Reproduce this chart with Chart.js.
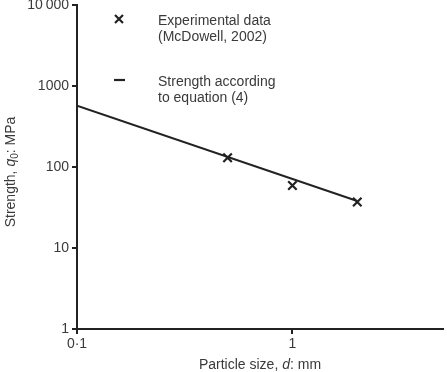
<!DOCTYPE html>
<html>
<head>
<meta charset="utf-8">
<script src="https://cdn.jsdelivr.net/npm/chart.js@4"></script>
<style>
  html, body { margin: 0; padding: 0; background: #fff; }
  #wrap { width: 447px; height: 372px; }
</style>
</head>
<body>
<div id="wrap"><canvas id="chart"></canvas></div>
<script>
// data
var particleSize = [0.5, 1, 2];
var strength = [130, 59, 37];
var eqSize = [0.1, 2];
var eqStrength = [570, 38];
var xTicks = [0.1, 1];
var yTicks = [1, 10, 100, 1000, 10000];

var FONT = "'Liberation Sans', Arial, sans-serif";
var TXT = '#3a3a3a';

function pts(xs, ys) {
    return xs.map(function(x, i) { return { x: x, y: ys[i] }; });
}

// draws legend + axis titles (mixed italic / subscript)
var decor = {
    id: 'decor',
    afterDraw: function(chart) {
        var ctx = chart.ctx;
        ctx.save();
        ctx.fillStyle = TXT;
        ctx.strokeStyle = '#222';
        ctx.textBaseline = 'middle';

        // legend
        ctx.lineWidth = 2.2;
        ctx.beginPath();
        ctx.moveTo(115, 15); ctx.lineTo(123, 23);
        ctx.moveTo(123, 15); ctx.lineTo(115, 23);
        ctx.stroke();
        ctx.beginPath();
        ctx.moveTo(114, 80); ctx.lineTo(125, 80);
        ctx.stroke();

        ctx.font = '14px ' + FONT;
        ctx.textAlign = 'left';
        ctx.fillText('Experimental data', 158, 21);
        ctx.fillText('(McDowell, 2002)', 158, 37);
        ctx.fillText('Strength according', 158, 82);
        ctx.fillText('to equation (4)', 158, 98);

        // x title
        var parts = [['Particle size, ', 'normal'], ['d', 'italic'], [': mm', 'normal']];
        var w = 0;
        parts.forEach(function(p) { ctx.font = p[1] + ' 14px ' + FONT; w += ctx.measureText(p[0]).width; });
        var cx = (chart.chartArea.left + chart.chartArea.right) / 2 - w / 2;
        parts.forEach(function(p) {
            ctx.font = p[1] + ' 14px ' + FONT;
            ctx.fillText(p[0], cx, 365);
            cx += ctx.measureText(p[0]).width;
        });

        // y title, rotated
        ctx.translate(11, (chart.chartArea.top + chart.chartArea.bottom) / 2 + 5);
        ctx.rotate(-Math.PI / 2);
        var yp = [['Strength, ', 'normal', 14, 0], ['q', 'italic', 14, 0], ['0', 'normal', 10, 4], [': MPa', 'normal', 14, 0]];
        w = 0;
        yp.forEach(function(p) { ctx.font = p[1] + ' ' + p[2] + 'px ' + FONT; w += ctx.measureText(p[0]).width; });
        var px = -w / 2;
        yp.forEach(function(p) {
            ctx.font = p[1] + ' ' + p[2] + 'px ' + FONT;
            ctx.fillText(p[0], px, p[3]);
            px += ctx.measureText(p[0]).width;
        });
        ctx.restore();
    }
};

var ctx1 = document.getElementById('chart').getContext('2d');
var myChart = new Chart(ctx1, {
    type: 'scatter',
    data: {
        datasets: [{
            label: 'Experimental data (McDowell, 2002)',
            data: pts(particleSize, strength),
            pointStyle: 'crossRot',
            pointRadius: 6,
            pointBorderWidth: 2.2,
            borderColor: '#222',
            backgroundColor: '#222',
            showLine: false
        }, {
            label: 'Strength according to equation (4)',
            data: pts(eqSize, eqStrength),
            showLine: true,
            pointRadius: 0,
            borderColor: '#222',
            borderWidth: 2
        }]
    },
    options: {
        responsive: true,
        maintainAspectRatio: false,
        animation: false,
        layout: { autoPadding: false, padding: { top: 5, right: 4, left: 0, bottom: 0 } },
        plugins: { legend: { display: false }, tooltip: { enabled: false } },
        scales: {
            x: {
                type: 'logarithmic',
                min: 0.1,
                max: 5,
                afterBuildTicks: function(s) { s.ticks = xTicks.map(function(v) { return { value: v }; }); },
                afterFit: function(s) { s.height = 43; s.paddingLeft = 0; s.paddingRight = 0; },
                border: { color: '#222', width: 2 },
                grid: { drawOnChartArea: false, tickLength: 5, color: '#222', lineWidth: 2 },
                ticks: {
                    color: TXT,
                    font: { family: FONT, size: 14 },
                    padding: 2,
                    maxRotation: 0,
                    callback: function(v) { return String(v).replace('.', '·'); }
                }
            },
            y: {
                type: 'logarithmic',
                min: 1,
                max: 10000,
                afterBuildTicks: function(s) { s.ticks = yTicks.map(function(v) { return { value: v }; }); },
                afterFit: function(s) { s.width = 77; s.paddingTop = 0; s.paddingBottom = 0; },
                border: { color: '#222', width: 2 },
                grid: { drawOnChartArea: false, tickLength: 5, color: '#222', lineWidth: 2 },
                ticks: {
                    color: TXT,
                    font: { family: FONT, size: 14 },
                    padding: 3,
                    callback: function(v) { return v === 10000 ? '10\u2009000' : String(v); }
                }
            }
        }
    },
    plugins: [decor]
});
</script>
</body>
</html>
